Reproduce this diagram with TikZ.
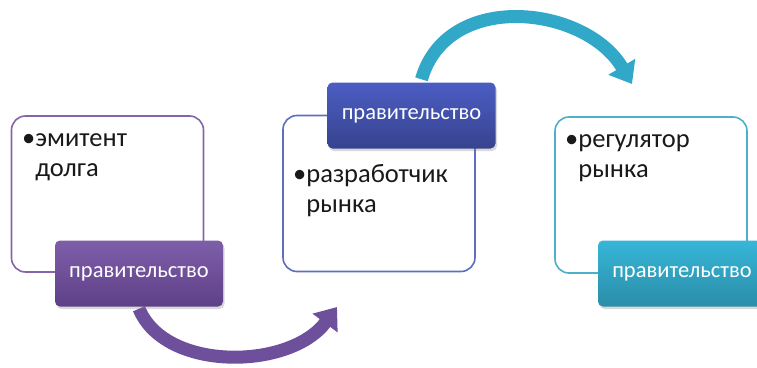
\documentclass[tikz,border=0pt]{standalone}
\usepackage{fontspec}
\setmainfont{Carlito}
\usetikzlibrary{arrows.meta,shadows,backgrounds}

\definecolor{violetTop}{HTML}{7E5EA9}
\definecolor{violetBot}{HTML}{5E4088}
\definecolor{violetLine}{HTML}{8466A8}
\definecolor{violetBow}{HTML}{6E4F9B}
\definecolor{blueTop}{HTML}{4B5DC3}
\definecolor{blueBot}{HTML}{37438F}
\definecolor{blueLine}{HTML}{5D6DC2}
\definecolor{tealTop}{HTML}{37B6D8}
\definecolor{tealBot}{HTML}{2A8DA8}
\definecolor{tealLine}{HTML}{4EAFCA}
\definecolor{tealBow}{HTML}{31A8C8}

\begin{document}
\begin{tikzpicture}[x=1pt,y=-1pt,
  card/.style={draw,line width=1.6pt,rounded corners=14pt,fill=white,
    minimum width=192pt,minimum height=156pt,inner sep=0pt},
  tag/.style={rounded corners=5pt,minimum width=168pt,minimum height=66pt,
    text=white,font=\fontsize{22.5}{26}\selectfont,
    drop shadow={opacity=0.3,shadow xshift=1.5pt,shadow yshift=-2.5pt}},
  bullets/.style={anchor=base west,align=left,inner sep=0pt,
    font=\fontsize{26.5}{30}\selectfont,text=black!90},
  bow/.style={line width=13pt,-{Triangle[width=30pt,length=20pt]}}]
\useasboundingbox (0,0) rectangle (757,367);
% cards
\node[card,draw=violetLine] (card1) at (107.5,194) {};
\node[card,draw=blueLine] (card2) at (379,193.5) {};
\node[card,draw=tealLine] (card3) at (651,195) {};
\node[bullets] (txt1) at (22,176) {•эмитент\\\phantom{•}долга};
\node[bullets] (txt2) at (293,212) {•разработчик\\\phantom{•}рынка};
\node[bullets] (txt3) at (565,177) {•регулятор\\\phantom{•}рынка};
% labels
\node[tag,top color=violetTop,bottom color=violetBot] (tag1) at (139,273.5) {правительство};
\node[tag,top color=blueTop,bottom color=blueBot] (tag2) at (411.5,115.5) {правительство};
\node[tag,top color=tealTop,bottom color=tealBot] (tag3) at (682,273.5) {правительство};
% connectors
\coordinate (tip1) at (337,307);
\coordinate (tip2) at (632,84);
\begin{scope}[on background layer]
\draw[bow,violetBow] ([yshift=-2pt]tag1.south) .. controls (165,372) and (290,370) .. (tip1);
\draw[bow,tealBow] ([xshift=10pt,yshift=3pt]tag2.north) .. controls (447,-10) and (585,5) .. (tip2);
\end{scope}
\end{tikzpicture}
\end{document}
